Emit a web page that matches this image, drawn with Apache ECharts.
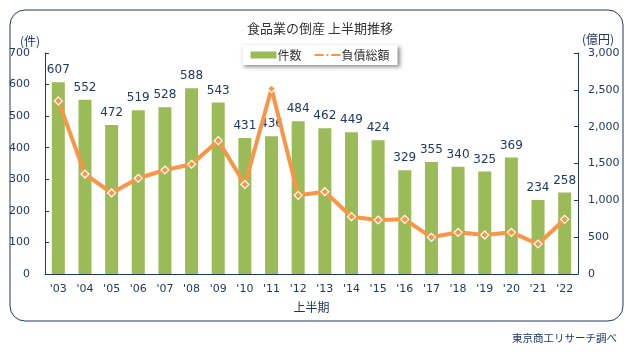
<!DOCTYPE html>
<html lang="ja">
<head>
	<meta charset="UTF-8">
	<title>食品業の倒産 上半期推移</title>
	<script src="https://cdn.jsdelivr.net/npm/echarts@6/dist/echarts.min.js"></script>
	<style>
		html, body { margin: 0; padding: 0; background: #fff; }
		#main { width: 640px; height: 354px; }
	</style>
</head>
<body>
	<div id="main"></div>
	<script>
		// 上半期
		const years = ["'03", "'04", "'05", "'06", "'07", "'08", "'09", "'10", "'11", "'12",
			"'13", "'14", "'15", "'16", "'17", "'18", "'19", "'20", "'21", "'22"];
		// 件数
		const counts = [607, 552, 472, 519, 528, 588, 543, 431, 436, 484,
			462, 449, 424, 329, 355, 340, 325, 369, 234, 258];
		// 負債総額（億円）
		const debts = [2350, 1357, 1100, 1300, 1412, 1490, 1810, 1215, 2515, 1068,
			1117, 778, 733, 742, 498, 566, 529, 566, 407, 742];

		const navy = '#1f3864';
		const font = 'DejaVu Sans, Noto Sans CJK JP, sans-serif';
		const jpFont = 'Noto Sans CJK JP, sans-serif';

		var myChart = echarts.init(document.getElementById('main'));

		const option = {
			animation: false,
			textStyle: { fontFamily: font },
			title: {
				text: '食品業の倒産 上半期推移',
				left: 'center',
				top: 17,
				textStyle: { fontFamily: jpFont, fontSize: 13, fontWeight: 'normal', color: '#333' }
			},
			legend: {
				top: 45,
				left: 'center',
				itemGap: 12,
				itemWidth: 26,
				itemHeight: 7,
				padding: [4, 8],
				backgroundColor: '#fff',
				shadowColor: 'rgba(0,0,0,0.45)',
				shadowBlur: 4,
				shadowOffsetX: 2,
				shadowOffsetY: 2,
				textStyle: { fontFamily: jpFont, fontSize: 12, color: '#333', padding: [0, 0, 0, -4] },
				data: [
					{ name: '件数', icon: 'rect' },
					{ name: '負債総額' }
				]
			},
			grid: { left: 45, right: 62, top: 53, bottom: 80 },
			xAxis: {
				type: 'category',
				data: years,
				name: '上半期',
				nameLocation: 'middle',
				nameGap: 27,
				nameTextStyle: { fontFamily: jpFont, fontSize: 12, color: navy },
				axisLine: { lineStyle: { color: navy, width: 1 } },
				axisTick: { inside: true, length: 4, lineStyle: { color: navy } },
				axisLabel: { color: navy, fontSize: 11, margin: 10 }
			},
			yAxis: [
				{
					type: 'value',
					min: 0, max: 700, interval: 100,
					name: '(件)',
					nameGap: 6,
					nameTextStyle: { fontFamily: jpFont, fontSize: 12, color: navy, align: 'center', padding: [0, 0, 0, -30] },
					axisLine: { show: true, lineStyle: { color: navy } },
					axisTick: { show: true, inside: true, length: 4, lineStyle: { color: navy } },
					axisLabel: { color: navy, fontSize: 11, margin: 15 },
					splitLine: { show: false }
				},
				{
					type: 'value',
					min: 0, max: 3000, interval: 500,
					name: '(億円)',
					nameGap: 8,
					nameTextStyle: { fontFamily: jpFont, fontSize: 12, color: navy, align: 'center', padding: [0, 0, 0, 40] },
					axisLine: { show: true, lineStyle: { color: navy } },
					axisTick: { show: true, inside: true, length: 4, lineStyle: { color: navy } },
					axisLabel: {
						color: navy, fontSize: 11, margin: 10,
						formatter: v => v.toLocaleString('en-US')
					},
					splitLine: { show: false }
				}
			],
			series: [
				{
					name: '件数',
					type: 'bar',
					data: counts,
					barWidth: 13,
					itemStyle: { color: '#9bbb59' },
					label: { show: true, position: 'top', distance: 6, color: navy, fontSize: 12 }
				},
				{
					name: '負債総額',
					type: 'line',
					yAxisIndex: 1,
					data: debts,
					symbol: 'diamond',
					symbolSize: 8,
					lineStyle: { color: '#f79646', width: 4 },
					itemStyle: { color: '#f79646', borderColor: '#fff', borderWidth: 1.2 }
				}
			],
			graphic: [
				{
					type: 'rect',
					silent: true,
					z: -1,
					shape: { x: 10, y: 10, width: 613, height: 311, r: 15 },
					style: { fill: 'none', stroke: navy, lineWidth: 1 }
				},
				{
					type: 'text',
					right: 23,
					top: 333,
					style: { text: '東京商工リサーチ調べ', fontFamily: jpFont, fontSize: 10.5, fill: navy }
				}
			]
		};

		myChart.setOption(option);
	</script>
</body>
</html>
